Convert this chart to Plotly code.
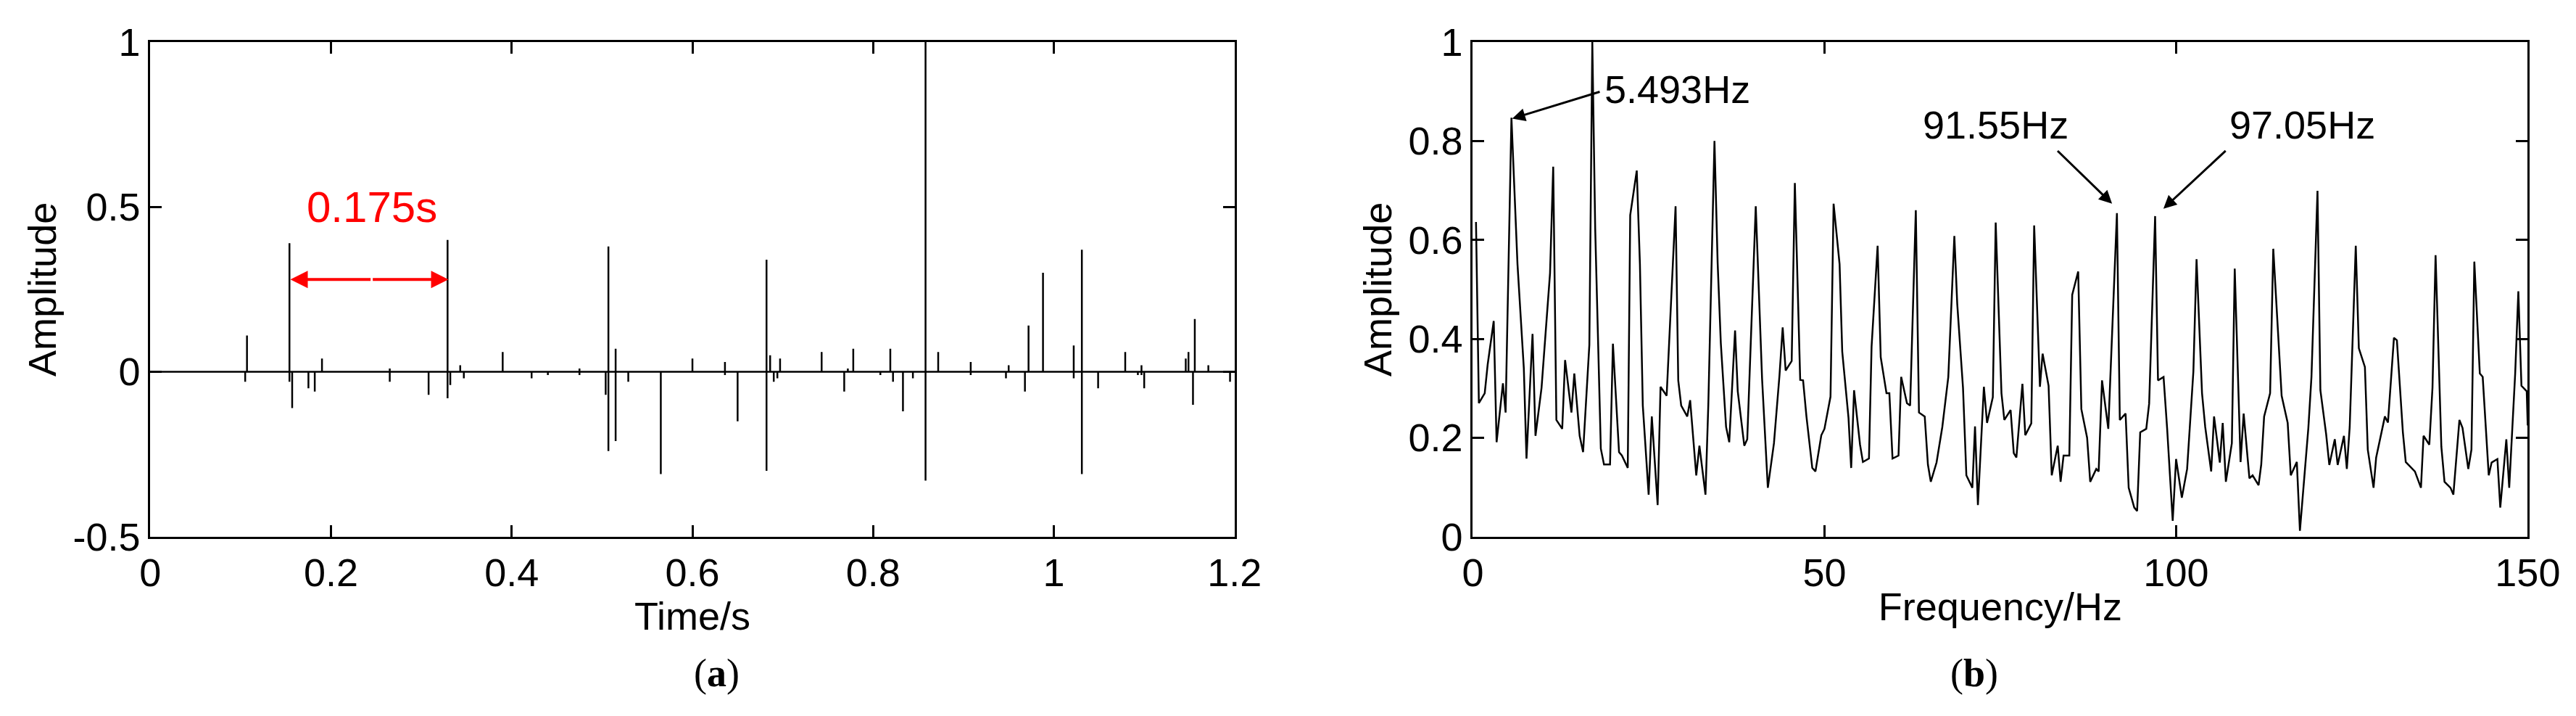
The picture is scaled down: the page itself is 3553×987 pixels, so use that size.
import plotly.graph_objects as go
from plotly.subplots import make_subplots

# (a) impulse signal: spike position, positive peak, negative peak
spike_t = [0.105, 0.107, 0.154, 0.157, 0.175, 0.182, 0.19, 0.265, 0.308, 0.329, 0.332, 0.343, 0.347,
           0.39, 0.422, 0.44, 0.475, 0.504, 0.507, 0.515, 0.529, 0.565,
           0.6, 0.636, 0.65, 0.682, 0.686, 0.69, 0.694, 0.697, 0.743, 0.768, 0.772, 0.778, 0.808,
           0.819, 0.822, 0.833, 0.844, 0.858, 0.872, 0.908, 0.947, 0.95, 0.968, 0.972, 0.988,
           1.022, 1.031, 1.049, 1.079, 1.093, 1.097, 1.1, 1.146, 1.149, 1.154, 1.156, 1.171, 1.195]
spike_up = [0.0, 0.11, 0.39, 0.0, 0.0, 0.0, 0.04, 0.01, 0.0, 0.40, 0.0, 0.02, 0.0,
            0.06, 0.0, 0.0, 0.01, 0.0, 0.38, 0.07, 0.0, 0.0,
            0.04, 0.03, 0.0, 0.34, 0.05, 0.0, 0.0, 0.04, 0.06, 0.0, 0.01, 0.07, 0.0,
            0.07, 0.0, 0.0, 0.0, 1.0, 0.06, 0.03, 0.0, 0.02, 0.0, 0.14, 0.30,
            0.08, 0.37, 0.0, 0.06, 0.0, 0.02, 0.0, 0.04, 0.06, 0.0, 0.16, 0.02, 0.0]
spike_dn = [-0.03, 0.0, -0.03, -0.11, -0.05, -0.06, 0.0, -0.03, -0.07, -0.08, -0.04, 0.0, -0.02,
            0.0, -0.02, -0.01, -0.01, -0.07, -0.24, -0.21, -0.03, -0.31,
            0.0, -0.01, -0.15, -0.30, 0.0, -0.03, -0.02, 0.0, 0.0, -0.06, 0.0, 0.0, -0.01,
            0.0, -0.03, -0.12, -0.02, -0.33, 0.0, -0.01, -0.02, 0.0, -0.06, 0.0, 0.0,
            -0.02, -0.31, -0.05, 0.0, -0.01, -0.01, -0.05, 0.0, 0.0, -0.10, 0.0, 0.0, -0.03]

# (b) envelope spectrum
freq = [0.45, 0.86, 1.69, 2.11, 2.97, 3.38, 4.28, 4.66, 5.49, 6.35, 7.25, 7.63, 8.49, 8.91, 9.77,
        10.98, 11.43, 11.88, 12.71, 13.12, 14.02, 14.43, 15.19, 15.68, 16.57, 16.99, 17.40, 18.20,
        18.65, 19.51, 19.92, 20.79, 21.20, 22.03, 22.38, 23.31, 23.76, 24.17, 25.00, 25.45, 26.28,
        26.69, 27.56, 28.83, 29.21, 29.63, 30.49, 30.90, 31.77, 32.22, 33.08, 33.49, 34.36, 34.81,
        35.26, 36.01, 36.46, 37.29, 37.67, 38.60, 39.02, 40.23, 41.13, 41.95, 42.82, 43.61, 44.06,
        44.48, 45.34, 45.79, 46.55, 46.96, 47.44, 48.27, 48.72, 49.55, 50.00,
        50.86, 51.30, 52.15, 52.53, 53.42, 53.80, 54.21, 55.06, 55.47, 56.33, 56.70, 57.56, 58.00,
        58.82, 59.23, 59.68, 60.53, 60.91, 61.73, 62.18, 62.99, 63.44, 64.26, 64.71, 65.12, 65.94,
        66.76, 67.61, 68.47, 68.88, 69.70, 70.18, 71.03, 71.41, 71.82, 72.67, 73.12, 73.94, 74.35,
        75.17, 75.58, 76.47, 76.92, 77.29, 78.15, 78.56, 79.41, 79.82, 80.64, 81.02, 81.87, 82.32,
        83.17, 83.58, 84.00, 84.82, 85.23, 86.08, 86.53, 87.35, 87.79, 88.65, 88.99, 89.47, 90.36,
        91.59, 92.00, 92.82, 93.26, 94.05, 94.46, 94.90, 95.76, 96.17, 97.02, 97.43, 98.22, 98.73,
        99.52, 100.0, 100.82, 101.57, 102.46, 102.91, 103.69, 104.14, 104.99, 105.40, 106.22,
        106.63, 107.08, 107.93, 108.34, 109.17, 109.61, 110.43, 110.88, 111.73, 112.11, 112.52,
        113.37, 113.82, 114.57, 115.01, 115.87, 116.31, 117.17, 117.61, 118.81, 119.25, 120.11,
        120.52, 121.34, 121.79, 122.57, 122.98, 123.87, 124.28, 124.69, 125.55, 125.99, 126.85,
        127.26, 128.08, 128.45, 129.69, 130.13, 130.98, 131.40, 132.25, 132.66, 133.96, 134.82,
        135.19, 136.01, 136.46, 136.90, 137.72, 138.17, 139.02, 139.43, 140.29, 140.73, 141.55,
        142.00, 142.41, 143.19, 143.60, 144.46, 144.87, 145.69, 146.10, 146.96, 147.37, 148.22,
        148.67, 149.11, 149.86, 150.0]
amp = [0.636, 0.270, 0.290, 0.348, 0.436, 0.191, 0.310, 0.251, 0.847, 0.551, 0.341, 0.158, 0.410,
       0.204, 0.301, 0.533, 0.748, 0.236, 0.218, 0.357, 0.251, 0.330, 0.204, 0.171, 0.388, 1.0,
       0.623, 0.178, 0.146, 0.146, 0.390, 0.171, 0.164, 0.139, 0.650, 0.740, 0.551, 0.265, 0.085,
       0.243, 0.064, 0.303, 0.285, 0.668, 0.316, 0.265, 0.243, 0.276, 0.124, 0.184, 0.085, 0.269,
       0.800, 0.554, 0.392, 0.222, 0.191, 0.417, 0.294, 0.184, 0.197, 0.668, 0.319, 0.099, 0.189,
       0.327, 0.423, 0.336, 0.355, 0.715, 0.317, 0.316, 0.243, 0.139, 0.132, 0.205, 0.218,
       0.283, 0.673, 0.551, 0.374, 0.240, 0.139, 0.296, 0.186, 0.151, 0.158, 0.384, 0.588, 0.363,
       0.290, 0.290, 0.158, 0.164, 0.323, 0.270, 0.265, 0.660, 0.251, 0.243, 0.146, 0.111, 0.150,
       0.222, 0.323, 0.608, 0.471, 0.301, 0.124, 0.099, 0.223, 0.064, 0.303, 0.230, 0.282, 0.635,
       0.290, 0.236, 0.256, 0.169, 0.160, 0.309, 0.205, 0.229, 0.629, 0.303, 0.370, 0.305, 0.124,
       0.184, 0.111, 0.164, 0.164, 0.489, 0.536, 0.258, 0.200, 0.111, 0.137, 0.132, 0.316, 0.218,
       0.654, 0.236, 0.249, 0.099, 0.059, 0.052, 0.211, 0.218, 0.269, 0.648, 0.316, 0.323, 0.218,
       0.032, 0.157, 0.079, 0.137, 0.334, 0.561, 0.290, 0.222, 0.132, 0.243, 0.150,
       0.230, 0.111, 0.189, 0.542, 0.151, 0.249, 0.118, 0.124, 0.104, 0.146, 0.243,
       0.290, 0.582, 0.399, 0.285, 0.230, 0.124, 0.151, 0.012, 0.220, 0.323, 0.699,
       0.296, 0.207, 0.145, 0.197, 0.145, 0.204, 0.137, 0.222, 0.588, 0.381, 0.343,
       0.176, 0.099, 0.160, 0.243, 0.231, 0.402, 0.397, 0.211, 0.151, 0.132, 0.099,
       0.204, 0.186, 0.301, 0.569, 0.182, 0.111, 0.099, 0.085, 0.236, 0.220, 0.137,
       0.176, 0.556, 0.330, 0.323, 0.124, 0.150, 0.157, 0.059, 0.197, 0.099, 0.330,
       0.496, 0.305, 0.294, 0.225]

# build stem-like line for (a)
tx, ty = [0.0], [0.0]
for t, u, d in zip(spike_t, spike_up, spike_dn):
    tx += [t, t, t, t]
    ty += [0.0, u, d, 0.0]
tx.append(1.2)
ty.append(0.0)

fig = make_subplots(rows=1, cols=2)
fig.add_trace(go.Scatter(x=tx, y=ty, mode="lines", line=dict(color="black", width=2.5)), row=1, col=1)
fig.add_trace(go.Scatter(x=freq, y=amp, mode="lines", line=dict(color="black", width=2.5)), row=1, col=2)

font = dict(family="Liberation Sans, Arial", size=54, color="black")
axis_style = dict(showline=True, mirror="ticks", linecolor="black", linewidth=3, ticks="inside",
                  ticklen=16, tickwidth=3, tickcolor="black", showgrid=False, zeroline=False,
                  tickfont=font, automargin=False)

fig.update_xaxes(axis_style, range=[0, 1.2], tickvals=[0, 0.2, 0.4, 0.6, 0.8, 1, 1.2],
                 domain=[0.0561, 0.477], title=dict(text="Time/s", font=font, standoff=0), row=1, col=1)
fig.update_yaxes(axis_style, range=[-0.5, 1], tickvals=[-0.5, 0, 0.5, 1], ticktext=["-0.5", "0", "0.5", "1"],
                 title=dict(text="Amplitude", font=font, standoff=6), row=1, col=1)
fig.update_xaxes(axis_style, range=[0, 150], tickvals=[0, 50, 100, 150],
                 domain=[0.5695, 0.979], title=dict(text="Frequency/Hz", font=font, standoff=0), row=1, col=2)
fig.update_yaxes(axis_style, range=[0, 1], tickvals=[0, 0.2, 0.4, 0.6, 0.8, 1],
                 ticktext=["0", "0.2", "0.4", "0.6", "0.8", "1"],
                 title=dict(text="Amplitude", font=font, standoff=6), row=1, col=2)
fig.update_yaxes(domain=[0.2585, 0.9495])

red = "#ff0000"
ann = [
    dict(x=0.245, y=0.5, xref="x", yref="y", text="0.175s", showarrow=False,
         font=dict(family="Liberation Sans, Arial", size=60, color=red)),
    dict(x=0.155, y=0.28, ax=0.245, ay=0.28, xref="x", yref="y", axref="x", ayref="y", text="",
         showarrow=True, arrowhead=2, arrowsize=1.2, arrowwidth=4, arrowcolor=red),
    dict(x=0.33, y=0.28, ax=0.245, ay=0.28, xref="x", yref="y", axref="x", ayref="y", text="",
         showarrow=True, arrowhead=2, arrowsize=1.2, arrowwidth=4, arrowcolor=red),
    dict(x=29.1, y=0.905, xref="x2", yref="y2", text="5.493Hz", showarrow=False, font=font),
    dict(x=5.6, y=0.845, ax=18.2, ay=0.90, xref="x2", yref="y2", axref="x2", ayref="y2", text="",
         showarrow=True, arrowhead=2, arrowsize=1.2, arrowwidth=3, arrowcolor="black"),
    dict(x=74.3, y=0.832, xref="x2", yref="y2", text="91.55Hz", showarrow=False, font=font),
    dict(x=90.9, y=0.673, ax=83.0, ay=0.782, xref="x2", yref="y2", axref="x2", ayref="y2", text="",
         showarrow=True, arrowhead=2, arrowsize=1.2, arrowwidth=3, arrowcolor="black"),
    dict(x=117.9, y=0.832, xref="x2", yref="y2", text="97.05Hz", showarrow=False, font=font),
    dict(x=98.2, y=0.663, ax=107.2, ay=0.782, xref="x2", yref="y2", axref="x2", ayref="y2", text="",
         showarrow=True, arrowhead=2, arrowsize=1.2, arrowwidth=3, arrowcolor="black"),
    dict(x=0.2665, y=0.035, xref="paper", yref="paper", text="(<b>a</b>)", showarrow=False,
         font=dict(family="Liberation Serif, Times New Roman", size=54, color="black")),
    dict(x=0.774, y=0.035, xref="paper", yref="paper", text="(<b>b</b>)", showarrow=False,
         font=dict(family="Liberation Serif, Times New Roman", size=54, color="black")),
]
fig.update_layout(width=3553, height=987, showlegend=False, annotations=ann,
                  paper_bgcolor="white", plot_bgcolor="white", margin=dict(l=0, r=0, t=0, b=0))

fig.write_html("out.html")
